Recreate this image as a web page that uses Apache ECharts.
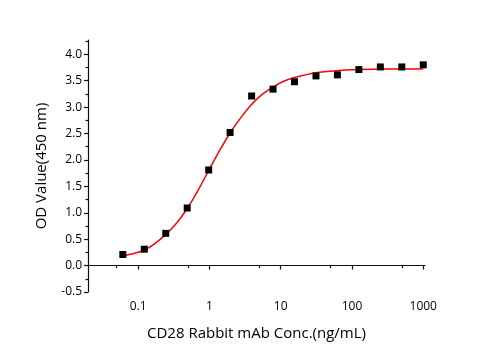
<!DOCTYPE html>
<html>
<head>
<meta charset="utf-8">
<script src="https://cdn.jsdelivr.net/npm/echarts@6/dist/echarts.min.js"></script>
<style>
  html, body { margin: 0; padding: 0; background: #fff; }
  #chart { width: 495px; height: 350px; }
</style>
</head>
<body>
<div id="chart"></div>
<script>
// measured points: concentration (ng/mL) and OD at 450 nm
const conc = [0.061, 0.122, 0.244, 0.488, 0.977, 1.95, 3.91, 7.81, 15.6, 31.25, 62.5, 125, 250, 500, 1000];
const od = [0.21, 0.31, 0.61, 1.09, 1.81, 2.52, 3.21, 3.34, 3.48, 3.59, 3.61, 3.71, 3.76, 3.76, 3.80];

// fitted curve
const fitConc = [0.061, 0.086, 0.122, 0.17, 0.244, 0.35, 0.488, 0.69, 0.977, 1.38, 1.95, 2.76, 3.9, 5.5, 7.8, 11, 15.6, 31.25, 62.5, 125, 250, 500, 1000];
const fitOd = [0.18, 0.23, 0.29, 0.41, 0.59, 0.81, 1.08, 1.42, 1.80, 2.17, 2.51, 2.80, 3.05, 3.24, 3.38, 3.49, 3.56, 3.65, 3.69, 3.71, 3.72, 3.72, 3.72];

const xMajor = [0.1, 1, 10, 100, 1000];
const xMinor = [0.05, 0.5, 5, 50, 500];
const yMajor = [-0.5, 0, 0.5, 1, 1.5, 2, 2.5, 3, 3.5, 4];
const yMinor = [-0.25, 0.25, 0.75, 1.25, 1.75, 2.25, 2.75, 3.25, 3.75, 4.25];

const font = 'Open Sans';
const xMin = 0.0198, xMax = 1058, yMin = -0.5, yMax = 4.27;

const chart = echarts.init(document.getElementById('chart'), null, { renderer: 'canvas' });

const baseX = {
  type: 'log', logBase: 10, min: xMin, max: xMax,
  splitLine: { show: false }, position: 'bottom'
};
const baseY = {
  type: 'value', min: yMin, max: yMax,
  splitLine: { show: false }, position: 'left'
};

chart.setOption({
  animation: false,
  grid: { left: 88, right: 70, top: 40, bottom: 58, containLabel: false },
  xAxis: [
    Object.assign({}, baseX, {
      name: 'CD28 Rabbit mAb Conc.(ng/mL)',
      nameLocation: 'middle', nameGap: 34,
      nameTextStyle: { fontFamily: font, fontSize: 15, color: '#000' },
      axisLine: { show: true, lineStyle: { color: '#111', width: 1.2 } },
      axisTick: { show: true, inside: false, length: 4, customValues: xMajor, lineStyle: { color: '#111', width: 1.2 } },
      axisLabel: {
        show: true, customValues: xMajor, margin: 9,
        fontFamily: font, fontSize: 12, color: '#000',
        formatter: v => String(+(+v).toPrecision(3))
      }
    }),
    Object.assign({}, baseX, {
      axisLine: { show: false },
      axisTick: { show: true, inside: false, length: 2.5, customValues: xMinor, lineStyle: { color: '#111', width: 1.2 } },
      axisLabel: { show: false }
    })
  ],
  yAxis: [
    Object.assign({}, baseY, {
      name: 'OD Value(450 nm)',
      nameLocation: 'middle', nameGap: 39, nameRotate: 90,
      nameTextStyle: { fontFamily: font, fontSize: 15, color: '#000' },
      axisLine: { show: true, lineStyle: { color: '#111', width: 1.2 } },
      axisTick: { show: true, inside: false, length: 4, customValues: yMajor, lineStyle: { color: '#111', width: 1.2 } },
      axisLabel: {
        show: true, customValues: yMajor, margin: 6,
        fontFamily: font, fontSize: 12, color: '#000',
        formatter: v => (+v).toFixed(1)
      }
    }),
    Object.assign({}, baseY, {
      axisLine: { show: false },
      axisTick: { show: true, inside: false, length: 2.5, customValues: yMinor, lineStyle: { color: '#111', width: 1.2 } },
      axisLabel: { show: false }
    })
  ],
  series: [
    {
      type: 'line',
      data: fitConc.map((c, i) => [c, fitOd[i]]),
      smooth: 0.3,
      showSymbol: false,
      symbol: 'none',
      lineStyle: { color: '#ff0000', width: 1.5 },
      z: 2
    },
    {
      type: 'scatter',
      data: conc.map((c, i) => [c, od[i]]),
      symbol: 'rect',
      symbolSize: 7,
      itemStyle: { color: '#000', opacity: 1 },
      z: 3
    }
  ]
});
</script>
</body>
</html>
